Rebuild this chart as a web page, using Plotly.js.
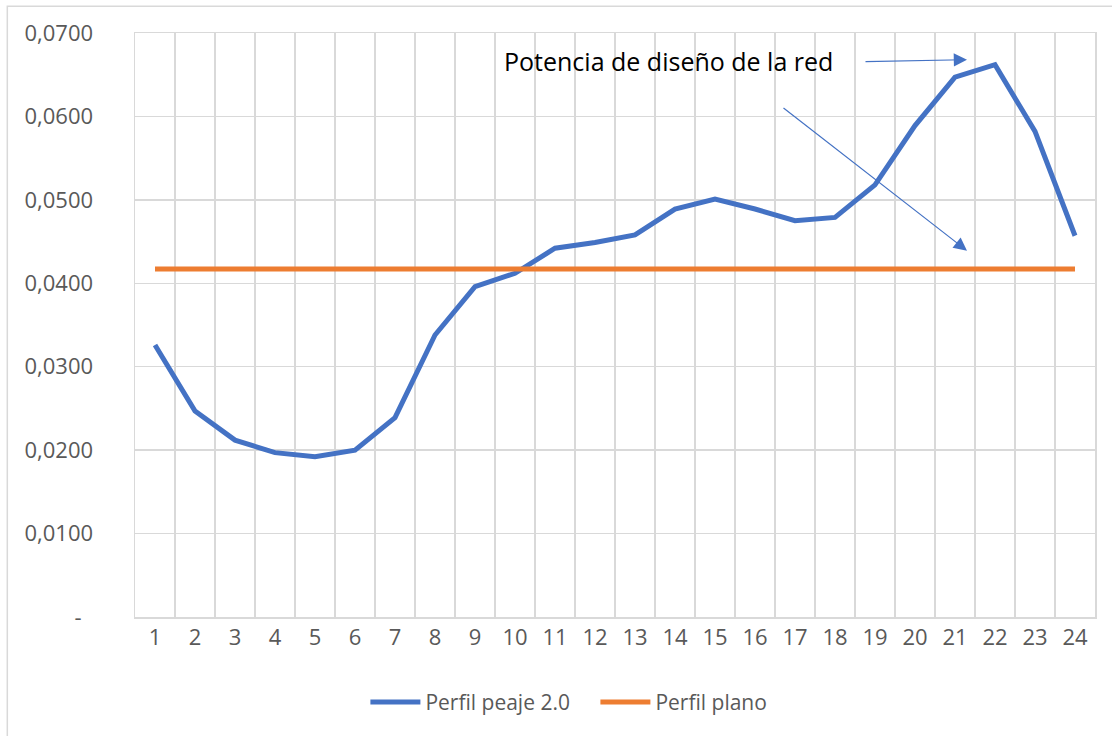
<!DOCTYPE html>
<html>
<head>
<meta charset="utf-8">
<script src="https://cdn.plot.ly/plotly-3.0.1.min.js"></script>
<style>
  body { margin: 0; background: #fff; }
  #chart { width: 1112px; height: 736px; }
</style>
</head>
<body>
<div id="chart"></div>
<script>
'use strict';

// Hours of the day
var horas = ['1', '2', '3', '4', '5', '6', '7', '8', '9', '10', '11', '12',
             '13', '14', '15', '16', '17', '18', '19', '20', '21', '22', '23', '24'];

// Perfil peaje 2.0
var perfilPeaje = [0.0326, 0.0247, 0.0212, 0.0197, 0.0192, 0.0200, 0.0239, 0.0338,
                   0.0396, 0.0412, 0.0442, 0.0449, 0.0458, 0.0489, 0.0501, 0.0489,
                   0.0475, 0.0479, 0.0518, 0.0589, 0.0647, 0.0662, 0.0582, 0.0457];

// Perfil plano: 1/24 every hour
var perfilPlano = [0.0417, 0.0417, 0.0417, 0.0417, 0.0417, 0.0417, 0.0417, 0.0417,
                   0.0417, 0.0417, 0.0417, 0.0417, 0.0417, 0.0417, 0.0417, 0.0417,
                   0.0417, 0.0417, 0.0417, 0.0417, 0.0417, 0.0417, 0.0417, 0.0417];

var yTickVals = [0, 0.01, 0.02, 0.03, 0.04, 0.05, 0.06, 0.07];
var yTickText = ['-\u00a0\u00a0', '0,0100', '0,0200', '0,0300', '0,0400', '0,0500', '0,0600', '0,0700'];

var FONT = '"Open Sans", Lato, sans-serif';
var BLUE = '#4472c4';
var ORANGE = '#ed7d31';
var GRID = '#d9d9d9';

var data = [
    {
        x: horas,
        y: perfilPeaje,
        name: 'Perfil peaje 2.0',
        type: 'scatter',
        mode: 'lines',
        line: {color: BLUE, width: 5}
    },
    {
        x: horas,
        y: perfilPlano,
        name: 'Perfil plano',
        type: 'scatter',
        mode: 'lines',
        line: {color: ORANGE, width: 5}
    }
];

var layout = {
    width: 1112,
    height: 736,
    margin: {l: 135, r: 17, t: 33, b: 119},
    paper_bgcolor: '#fff',
    plot_bgcolor: '#fff',
    font: {family: FONT, size: 22, color: '#595959'},
    showlegend: true,
    legend: {
        orientation: 'h',
        x: 0.24, xanchor: 'left',
        y: -0.146, yanchor: 'middle',
        font: {family: FONT, size: 21, color: '#595959'},
        itemwidth: 50,
        entrywidth: 165,
        traceorder: 'normal'
    },
    xaxis: {
        type: 'category',
        range: [-0.5, 23.5],
        tickson: 'boundaries',
        showgrid: true,
        gridcolor: GRID,
        gridwidth: 1.5,
        showline: true,
        linecolor: GRID,
        linewidth: 1.5,
        mirror: true,
        ticks: 'outside',
        ticklen: 30,
        tickcolor: 'rgba(0,0,0,0)',
        tickfont: {family: FONT, size: 22, color: '#595959'},
        zeroline: false,
        fixedrange: true
    },
    yaxis: {
        range: [0, 0.07],
        tickvals: yTickVals,
        ticktext: yTickText,
        showgrid: true,
        gridcolor: GRID,
        gridwidth: 1.5,
        showline: true,
        linecolor: GRID,
        linewidth: 1.5,
        mirror: true,
        ticks: 'outside',
        ticklen: 36,
        tickcolor: 'rgba(0,0,0,0)',
        tickfont: {family: FONT, size: 22, color: '#595959'},
        zeroline: false,
        fixedrange: true
    },
    shapes: [
        // light frame around the whole chart
        {
            type: 'rect', xref: 'paper', yref: 'paper',
            x0: -0.133, x1: 1.05, y0: -0.3, y1: 1.046,
            line: {color: GRID, width: 1.5}
        }
    ],
    annotations: [
        {
            text: 'Potencia de diseño de la red',
            xref: 'x', yref: 'y',
            x: 12.83, y: 0.0666,
            showarrow: false,
            font: {family: FONT, size: 25, color: '#000'}
        },
        {
            text: '',
            xref: 'x', yref: 'y',
            x: 20.3, y: 0.0668,
            ax: -103, ay: 2,
            showarrow: true,
            arrowhead: 2,
            arrowsize: 2.2,
            arrowwidth: 1.2,
            arrowcolor: BLUE
        },
        {
            text: '',
            xref: 'x', yref: 'y',
            x: 20.3, y: 0.0439,
            ax: -185, ay: -144,
            showarrow: true,
            arrowhead: 2,
            arrowsize: 2.2,
            arrowwidth: 1.2,
            arrowcolor: BLUE
        }
    ]
};

Plotly.newPlot('chart', data, layout, {displayModeBar: false, staticPlot: true});
</script>
</body>
</html>
